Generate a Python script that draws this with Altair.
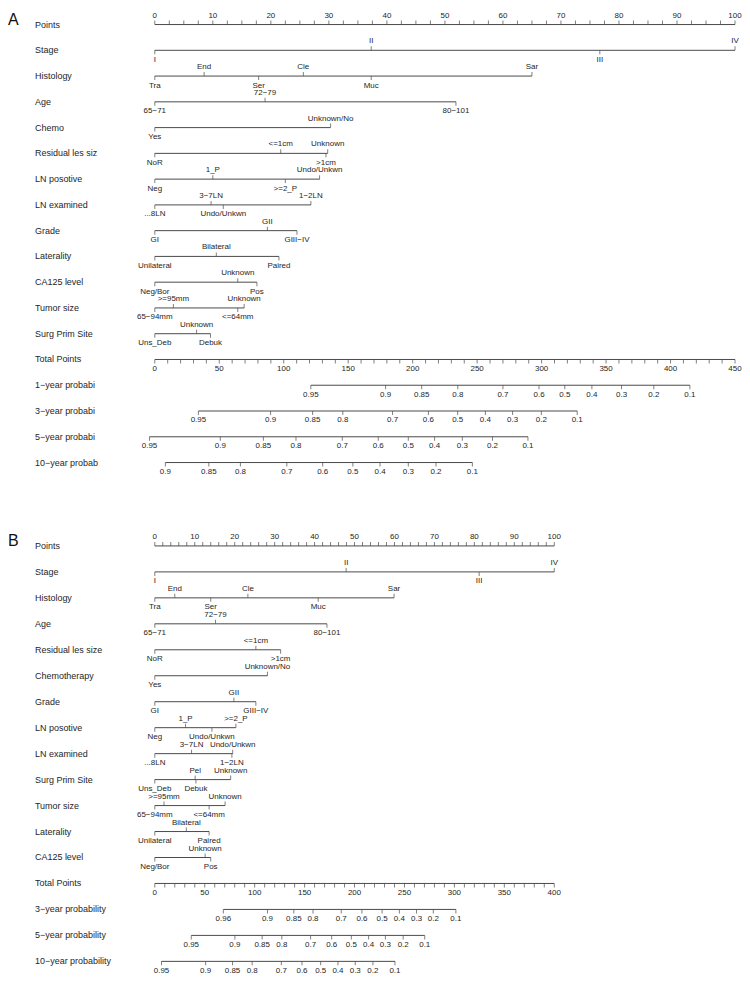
import altair as alt
import pandas as pd

FONT = "Liberation Sans, Arial"
TXT = "#262626"
LINE = "#4a4a4a"
M = "\u2212"

# ---------------- Panel A ----------------
A_rows = ["Points", "Stage", "Histology", "Age", "Chemo", "Residual les siz", "LN posotive",
          "LN examined", "Grade", "Laterality", "CA125 level", "Tumor size", "Surg Prim Site",
          "Total Points", "1" + M + "year probabi", "3" + M + "year probabi",
          "5" + M + "year probabi", "10" + M + "year probab"]

A_stage_lv = ["I", "II", "III", "IV"]
A_stage_pts = [0, 37.3, 76.7, 100]
A_hist_lv = ["Tra", "End", "Ser", "Cle", "Muc", "Sar"]
A_hist_pts = [0, 8.5, 17.9, 25.6, 37.3, 65.0]
A_age_lv = ["65" + M + "71", "72" + M + "79", "80" + M + "101"]
A_age_pts = [0, 19.0, 51.9]
A_chemo_lv = ["Yes", "Unknown/No"]
A_chemo_pts = [0, 30.3]
A_resid_lv = ["NoR", "<=1cm", ">1cm", "Unknown"]
A_resid_pts = [0, 21.7, 29.5, 29.8]
A_lnpos_lv = ["Neg", "1_P", ">=2_P", "Undo/Unkwn"]
A_lnpos_pts = [0, 10.0, 22.5, 28.4]
A_lnex_lv = ["...8LN", "3" + M + "7LN", "Undo/Unkwn", "1" + M + "2LN"]
A_lnex_pts = [0, 9.7, 11.8, 26.9]
A_grade_lv = ["GI", "GII", "GIII" + M + "IV"]
A_grade_pts = [0, 19.4, 24.5]
A_lat_lv = ["Unilateral", "Bilateral", "Paired"]
A_lat_pts = [0, 10.6, 21.4]
A_ca_lv = ["Neg/Bor", "Unknown", "Pos"]
A_ca_pts = [0, 14.3, 17.6]
A_tum_lv = ["65" + M + "94mm", ">=95mm", "<=64mm", "Unknown"]
A_tum_pts = [0, 3.2, 14.3, 15.4]
A_surg_lv = ["Uns_Deb", "Unknown", "Debuk"]
A_surg_pts = [0, 7.2, 9.6]

A_points_major = [0, 10, 20, 30, 40, 50, 60, 70, 80, 90, 100]
A_points_minor = [i * 2.5 for i in range(41)]
A_total_major = [0, 50, 100, 150, 200, 250, 300, 350, 400, 450]
A_total_minor = list(range(0, 451, 10))
A_total_max = 450

A_prob_lv = [0.95, 0.9, 0.85, 0.8, 0.7, 0.6, 0.5, 0.4, 0.3, 0.2, 0.1]
A_p1_tot = [121, 179, 207, 235, 270, 298, 318, 339, 362, 387, 415]
A_p3_tot = [33.8, 89.8, 122.4, 145.8, 184.4, 212.2, 234.9, 256.4, 277.5, 299.8, 327.6]
A_p5_tot = [-4.1, 50.8, 84.2, 109.5, 145.4, 173.3, 196.6, 217.0, 238.5, 261.9, 289.4]
A_p10_lv = [0.9, 0.85, 0.8, 0.7, 0.6, 0.5, 0.4, 0.3, 0.2, 0.1]
A_p10_tot = [8.2, 41.9, 66.4, 102.4, 130.2, 153.6, 174.7, 196.6, 218.1, 246.3]

# ---------------- Panel B ----------------
B_rows = ["Points", "Stage", "Histology", "Age", "Residual les size", "Chemotherapy", "Grade",
          "LN posotive", "LN examined", "Surg Prim Site", "Tumor size", "Laterality",
          "CA125 level", "Total Points", "3" + M + "year probability",
          "5" + M + "year probability", "10" + M + "year probability"]

B_stage_pts = [0, 47.9, 81.2, 100]
B_hist_pts = [0, 5.0, 14.0, 23.3, 40.9, 59.9]
B_age_pts = [0, 15.2, 43.1]
B_resid_lv = ["NoR", "<=1cm", ">1cm"]
B_resid_pts = [0, 25.3, 31.5]
B_chemo_pts = [0, 28.2]
B_grade_pts = [0, 19.8, 25.3]
B_lnpos_lv = ["Neg", "1_P", "Undo/Unkwn", ">=2_P"]
B_lnpos_pts = [0, 7.7, 14.3, 20.3]
B_lnex_lv = ["...8LN", "3" + M + "7LN", "1" + M + "2LN", "Undo/Unkwn"]
B_lnex_pts = [0, 9.2, 19.3, 19.5]
B_surg_lv = ["Uns_Deb", "Pel", "Debuk", "Unknown"]
B_surg_pts = [0, 10.1, 10.3, 19.0]
B_tum_pts = [0, 2.3, 13.6, 17.6]
B_lat_pts = [0, 7.9, 13.6]
B_ca_pts = [0, 12.6, 14.0]

B_points_major = [0, 10, 20, 30, 40, 50, 60, 70, 80, 90, 100]
B_points_minor = list(range(0, 101, 2))
B_total_major = [0, 50, 100, 150, 200, 250, 300, 350, 400]
B_total_minor = list(range(0, 401, 10))
B_total_max = 400

B_p3_lv = [0.96, 0.9, 0.85, 0.8, 0.7, 0.6, 0.5, 0.4, 0.3, 0.2, 0.1]
B_p3_tot = [68.6, 112.8, 139.2, 158.4, 186.7, 207.4, 227.6, 244.9, 262.1, 278.9, 301.5]
B_p5_lv = [0.95, 0.9, 0.85, 0.8, 0.7, 0.6, 0.5, 0.4, 0.3, 0.2, 0.1]
B_p5_tot = [36.5, 80.2, 107.5, 127.2, 156.0, 177.1, 196.8, 214.1, 230.9, 248.7, 270.3]
B_p10_lv = [0.95, 0.9, 0.85, 0.8, 0.7, 0.6, 0.5, 0.4, 0.3, 0.2, 0.1]
B_p10_tot = [6.7, 50.9, 77.8, 97.5, 126.7, 147.4, 166.1, 183.4, 200.7, 218.4, 240.5]


def build(rows, variables, pmaj, pmin, tmaj, tmin, tmax, probs, width, dom, height, plabel):
    k = 100.0 / tmax
    marks, lines = [], []
    r = rows[0]
    lines.append(dict(row=r, lo=0, hi=100))
    for v in pmaj:
        marks.append(dict(row=r, pts=v, label=str(v), side="up"))
    for v in pmin:
        if v not in pmaj:
            marks.append(dict(row=r, pts=v, label="", side="up"))
    for name, lv, pts in variables:
        lines.append(dict(row=name, lo=min(pts), hi=max(pts)))
        for i, (l, p) in enumerate(zip(lv, pts)):
            marks.append(dict(row=name, pts=p, label=l, side="down" if i % 2 == 0 else "up"))
    r = "Total Points"
    lines.append(dict(row=r, lo=0, hi=100))
    for v in tmaj:
        marks.append(dict(row=r, pts=v * k, label=str(v), side="down"))
    for v in tmin:
        if v not in tmaj:
            marks.append(dict(row=r, pts=v * k, label="", side="down"))
    for name, lv, tot in probs:
        pts = [t * k for t in tot]
        lines.append(dict(row=name, lo=min(pts), hi=max(pts)))
        for l, p in zip(lv, pts):
            marks.append(dict(row=name, pts=p, label=f"{l:g}", side="down"))

    df = pd.DataFrame(marks)
    ldf = pd.DataFrame(lines)
    xs = alt.Scale(domain=dom, nice=False, zero=False)
    ys = alt.Scale(domain=rows, type="point", padding=0.5)
    y = alt.Y("row:N", scale=ys, axis=None, sort=None)
    x = alt.X("pts:Q", scale=xs, axis=None)

    rule = alt.Chart(ldf).mark_rule(color=LINE, strokeWidth=1).encode(
        x=alt.X("lo:Q", scale=xs, axis=None), x2="hi:Q", y=y)
    base = alt.Chart(df)
    tup = base.transform_filter("datum.side == 'up'").mark_tick(
        orient="vertical", size=4, thickness=1, yOffset=-2, color=LINE).encode(x=x, y=y)
    tdn = base.transform_filter("datum.side == 'down'").mark_tick(
        orient="vertical", size=4, thickness=1, yOffset=2, color=LINE).encode(x=x, y=y)
    lup = base.transform_filter("datum.side == 'up' && datum.label != ''").mark_text(
        dy=-9, font=FONT, fontSize=8, color=TXT, baseline="middle").encode(x=x, y=y, text="label:N")
    ldn = base.transform_filter("datum.side == 'down' && datum.label != ''").mark_text(
        dy=9.5, font=FONT, fontSize=8, color=TXT, baseline="middle").encode(x=x, y=y, text="label:N")
    rlab = alt.Chart(pd.DataFrame({"row": rows})).mark_text(
        align="left", font=FONT, fontSize=9, color=TXT, baseline="middle").encode(
        x=alt.value(-103), y=y, text="row:N")
    plab = alt.Chart(pd.DataFrame({"row": [rows[0]], "lab": [plabel]})).mark_text(
        align="left", font="Liberation Sans", fontSize=16, color="#111", baseline="middle", dy=-5).encode(
        x=alt.value(-130), y=y, text="lab:N")
    return alt.layer(rule, tup, tdn, lup, ldn, rlab, plab).properties(width=width, height=height)


A_vars = [
    ("Stage", A_stage_lv, A_stage_pts),
    ("Histology", A_hist_lv, A_hist_pts),
    ("Age", A_age_lv, A_age_pts),
    ("Chemo", A_chemo_lv, A_chemo_pts),
    ("Residual les siz", A_resid_lv, A_resid_pts),
    ("LN posotive", A_lnpos_lv, A_lnpos_pts),
    ("LN examined", A_lnex_lv, A_lnex_pts),
    ("Grade", A_grade_lv, A_grade_pts),
    ("Laterality", A_lat_lv, A_lat_pts),
    ("CA125 level", A_ca_lv, A_ca_pts),
    ("Tumor size", A_tum_lv, A_tum_pts),
    ("Surg Prim Site", A_surg_lv, A_surg_pts),
]
A_probs = [
    (A_rows[14], A_prob_lv, A_p1_tot),
    (A_rows[15], A_prob_lv, A_p3_tot),
    (A_rows[16], A_prob_lv, A_p5_tot),
    (A_rows[17], A_p10_lv, A_p10_tot),
]
B_vars = [
    ("Stage", A_stage_lv, B_stage_pts),
    ("Histology", A_hist_lv, B_hist_pts),
    ("Age", A_age_lv, B_age_pts),
    ("Residual les size", B_resid_lv, B_resid_pts),
    ("Chemotherapy", A_chemo_lv, B_chemo_pts),
    ("Grade", A_grade_lv, B_grade_pts),
    ("LN posotive", B_lnpos_lv, B_lnpos_pts),
    ("LN examined", B_lnex_lv, B_lnex_pts),
    ("Surg Prim Site", B_surg_lv, B_surg_pts),
    ("Tumor size", A_tum_lv, B_tum_pts),
    ("Laterality", A_lat_lv, B_lat_pts),
    ("CA125 level", A_ca_lv, B_ca_pts),
]
B_probs = [
    (B_rows[14], B_p3_lv, B_p3_tot),
    (B_rows[15], B_p5_lv, B_p5_tot),
    (B_rows[16], B_p10_lv, B_p10_tot),
]

chartA = build(A_rows, A_vars, A_points_major, A_points_minor, A_total_major, A_total_minor,
               A_total_max, A_probs, 604, [-2.926, 101.033], 18 * 25.8, "A")
chartB = build(B_rows, B_vars, B_points_major, B_points_minor, B_total_major, B_total_minor,
               B_total_max, B_probs, 422, [-4.25, 101.25], 17 * 26.0, "B")

chart = alt.vconcat(chartA, chartB, spacing=57).properties(
    padding={"left": 0, "top": 2, "right": 0, "bottom": 0},
    background="white",
).configure_view(stroke=None, strokeWidth=0)

chart.save("out.html", embed_options={"renderer": "svg", "actions": False})
